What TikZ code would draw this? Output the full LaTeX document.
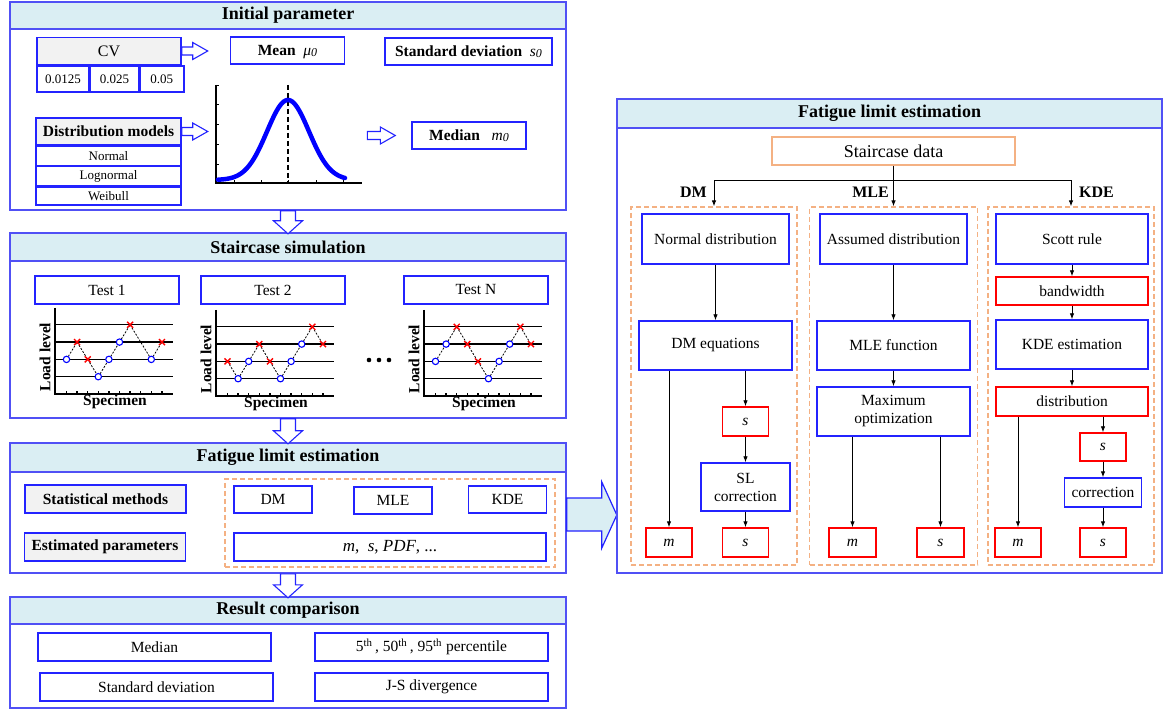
\documentclass[tikz,border=0pt]{standalone}
\usepackage{fontspec}
\setmainfont{Liberation Serif}
\usepackage{tikz}
\usetikzlibrary{arrows.meta, positioning, calc}

\definecolor{panelblue}{RGB}{80,80,245}
\definecolor{boxblue}{RGB}{35,35,255}
\definecolor{headblue}{RGB}{218,238,243}
\definecolor{boxgray}{RGB}{242,242,242}
\definecolor{dashorange}{RGB}{244,177,131}

% one staircase test: name, origin, trail, survived, failed
\newcommand{\stairplot}[5]{%
  \begin{scope}[shift={#2}]
    \draw[axisline] (0,-86) -- (0,0) -- (118,0);
    \foreach \lv in {1,...,4} \draw[gridline] (0,-17.3*\lv) -- (118,-17.3*\lv);
    \foreach \n in {0,...,9} \draw[axisline] (11.5+10.6*\n,0) -- ++(0,-3);
    \foreach \n/\lv [remember=\n as \lastn (initially 0), remember=\lv as \lastlv (initially 2)] in {#3}
      \draw[trail] (11.5+10.6*\lastn,-17.3*\lastlv) -- (11.5+10.6*\n,-17.3*\lv);
    \foreach \n/\lv in {#4} \draw[opt] (11.5+10.6*\n,-17.3*\lv) circle (3.2);
    \foreach \n/\lv in {#5} \draw[fail] (11.5+10.6*\n,-17.3*\lv) +(-3,-3) -- +(3,3) +(-3,3) -- +(3,-3);
    \node (#1y) [axlabel, rotate=90] at (-10,-37) {Load level};
    \node (#1x) [axlabel, anchor=north, inner sep=0pt] at (60,1) {Specimen};
  \end{scope}}

\begin{document}
\begin{tikzpicture}[x=1pt, y=-1pt,
  every node/.style={font=\fontsize{15.5}{18}\selectfont, inner sep=1pt},
  wh/.style 2 args={minimum width=#1pt, minimum height=#2pt},
  panel/.style={draw=panelblue, line width=1.6pt, inner sep=0pt},
  header/.style={draw=panelblue, line width=1.6pt, fill=headblue, inner sep=0pt,
    font=\fontsize{18}{20}\selectfont\bfseries},
  box/.style={draw=boxblue, line width=1.4pt, fill=white, align=center},
  redbox/.style={box, draw=red},
  graybox/.style={box, fill=boxgray, font=\fontsize{15.5}{18}\selectfont\bfseries},
  cell/.style={box, font=\fontsize{13}{15}\selectfont},
  dashbox/.style={draw=dashorange, dash pattern=on 5pt off 3pt, line width=1.2pt, inner sep=0pt},
  lab/.style={font=\fontsize{16}{18}\selectfont\bfseries},
  axlabel/.style={font=\fontsize{15.5}{17}\selectfont\bfseries},
  axisline/.style={line width=1.4pt},
  gridline/.style={line width=1.3pt},
  trail/.style={dash pattern=on 2pt off 1.5pt, line width=0.8pt},
  opt/.style={draw=blue, fill=white, line width=1.1pt},
  fail/.style={draw=red, line width=1.4pt},
  flow/.style={-{Latex[length=6pt,width=4.5pt]}, line width=0.9pt},
  harrow/.style={draw=boxblue, line width=1.1pt, fill=white},
  bigarrow/.style={draw=boxblue, line width=1.2pt, fill=headblue},
  pics/hollow/.style n args={4}{code={
    \draw[harrow] (0,-#2) -- ({#1-#4},-#2) -- ({#1-#4},-#3) -- (#1,0)
      -- ({#1-#4},#3) -- ({#1-#4},#2) -- (0,#2) -- cycle;}}
]
\fill[white] (0,0) rectangle (1163,711);
\useasboundingbox (0,0) rectangle (1163,711);

% ---- initial parameter
\node (p1) [panel, wh={556}{208}] at (288,106) {};
\node (p1h) [header, wh={556}{27}, anchor=north] at (p1.north) {Initial parameter};
\node (cv) [box, fill=boxgray, wh={144}{27}, font=\fontsize{16}{18}\selectfont] at (109,51) {CV};
\node (cv1) [cell, wh={52}{26}, anchor=north west] at (cv.south west) {0.0125};
\node (cv2) [cell, wh={48}{26}, right=0pt of cv1] {0.025};
\node (cv3) [cell, wh={44}{26}, right=0pt of cv2] {0.05};
\node (mean) [box, wh={114}{27}] at (287.5,50.5)
  {\textbf{Mean}\ \ \smash{\textit{μ}}\smash{\raisebox{-1pt}{\fontsize{12}{12}\selectfont\textit{0}}}};
\node (sdev0) [box, wh={167}{27}] at (468.5,51.5)
  {\textbf{Standard deviation}\ \ \textit{s}\smash{\raisebox{-1pt}{\fontsize{12}{12}\selectfont\textit{0}}}};
\node (dmh) [graybox, wh={145}{27}] at (108.5,131.5) {Distribution models};
\node (normal) [cell, wh={145}{19}, below=0pt of dmh] {Normal};
\node (lognormal) [cell, wh={145}{19}, below=0pt of normal] {Lognormal};
\node (weibull) [cell, wh={145}{18}, below=0pt of lognormal] {Weibull};
\node (median0) [box, wh={114}{27}] at (469,135.5)
  {\textbf{Median}\ \ \ \textit{m}\smash{\raisebox{-1pt}{\fontsize{12}{12}\selectfont\textit{0}}}};
\pic at (cv.east) {hollow={26}{4}{8.5}{15}};
\pic at (dmh.east) {hollow={26}{4}{8.5}{15}};
\pic at ($(median0.west)+(-44,0)$) {hollow={28}{4}{8.5}{15}};

% pdf sketch
\begin{scope}[shift={(216,183)}]
  \draw[axisline] (0,-98) -- (0,0) -- (146,0);
  \foreach \t in {19,39,59,79,98} \draw (0,-\t) -- ++(3,0);
  \foreach \t in {18,45,72,100,127} \draw (\t,0) -- ++(0,-3);
  \draw[dash pattern=on 5pt off 3pt, line width=1.2pt] (72,-98) -- (72,0);
  \draw[blue, line width=4.5pt, line cap=round] plot[domain=2:129, samples=90]
    (\x, {-3-80*exp(-((\x-72)/21)^2/2)});
\end{scope}

% ---- staircase simulation
\node (p2) [panel, wh={556}{185}] at (288,325.5) {};
\node (p2h) [header, wh={556}{28}, anchor=north] at (p2.north) {Staircase simulation};
\node (test1) [box, wh={144}{28}] at (107,290) {Test 1};
\node (test2) [box, wh={144}{28}] at (273,290) {Test 2};
\node (testn) [box, wh={144}{28}] at (476,290) {Test N};
\stairplot{sa}{(55,394)}{0/2,1/3,2/2,3/1,4/2,5/3,6/4,8/2,9/3}{0/2,3/1,4/2,5/3,8/2}{1/3,2/2,6/4,9/3}
\stairplot{sb}{(216,396)}{0/2,1/1,2/2,3/3,4/2,5/1,6/2,7/3,8/4,9/3}{1/1,2/2,5/1,6/2,7/3}{0/2,3/3,4/2,8/4,9/3}
\stairplot{sc}{(424,396)}{0/2,1/3,2/4,3/3,4/2,5/1,6/2,7/3,8/4,9/3}{0/2,1/3,5/1,6/2,7/3}{2/4,3/3,4/2,8/4,9/3}
\foreach \d in {369,379,389} \fill (\d,360) circle (2.3);

% ---- fatigue limit estimation (left)
\node (p3) [panel, wh={556}{130}] at (288,508) {};
\node (p3h) [header, wh={556}{29}, anchor=north] at (p3.north) {Fatigue limit estimation};
\node (stat) [graybox, wh={161}{28}] at (105.5,499) {Statistical methods};
\node (estp) [graybox, wh={161}{28}] at (105,547) {Estimated parameters};
\node (methods) [dashbox, wh={330}{88}] at (390,523) {};
\node (dm) [box, wh={78}{27}] at (273,499.5) {DM};
\node (mle) [box, wh={78}{27}] at (393,500.5) {MLE};
\node (kde) [box, wh={78}{27}] at (507.5,499.5) {KDE};
\node (params) [box, wh={312}{28}, font=\fontsize{17}{19}\selectfont] at (390,547)
  {\textit{m},\ \ \textit{s},\ \textit{PDF}, ...};
\draw[bigarrow] (p3.east) ++(0,-10) -- ++(35,0) -- ++(0,-16) -- ++(15,33)
  -- ++(-15,33) -- ++(0,-17) -- ++(-35,0) -- cycle;

% ---- result comparison
\node (p4) [panel, wh={556}{111}] at (288,652.5) {};
\node (p4h) [header, wh={556}{27}, anchor=north] at (p4.north) {Result comparison};
\node (med) [box, wh={233}{28}] at (154.5,647) {Median};
\node (pct) [box, wh={233}{28}] at (431.5,647)
  {5\textsuperscript{th}\,,\ 50\textsuperscript{th}\,,\ 95\textsuperscript{th} percentile};
\node (stdv) [box, wh={233}{28}] at (156.5,687) {Standard deviation};
\node (js) [box, wh={233}{28}] at (431.5,687) {J-S divergence};

\pic[rotate=-90] at (p1.south) {hollow={23}{7.5}{14.5}{13}};
\pic[rotate=-90] at (p2.south) {hollow={25}{7.5}{14.5}{13}};
\pic[rotate=-90] at (p3.south) {hollow={24}{7.5}{14.5}{13}};

% ---- fatigue limit estimation (right)
\node (rp) [panel, wh={545}{474}] at (889.5,336) {};
\node (rph) [header, wh={545}{29}, anchor=north] at (rp.north) {Fatigue limit estimation};
\node (sdata) [box, draw=dashorange, wh={243}{28}, font=\fontsize{18}{20}\selectfont] at (893.5,151) {Staircase data};
\node (dmcol) [dashbox, wh={166}{358}] at (714,386) {};
\node (mlecol) [dashbox, wh={168}{358}] at (893.5,386) {};
\node (kdecol) [dashbox, wh={166}{358}] at (1071,386) {};
\coordinate (fork) at ($(sdata.south)+(0,15)$);
\draw[line width=0.9pt] (sdata.south) -- (fork);
\draw[flow] (fork) -| (dmcol.north);
\draw[flow] (fork) -- (mlecol.north);
\draw[flow] (fork) -| (kdecol.north);
\node (dmlab) [lab, anchor=east] at (708,192) {DM};
\node (mlelab) [lab, anchor=east] at (890,192) {MLE};
\node (kdelab) [lab, anchor=west] at (1078,192) {KDE};

% DM
\node (normd) [box, wh={147}{50}] at (715.5,239) {Normal distribution};
\node (dmeq) [box, wh={153}{49}] at (715.5,345.5) {DM equations};
\node (dms1) [redbox, wh={46}{29}] at (745.5,421.5) {\textit{s}};
\node (slc) [box, wh={89}{48}] at (745.5,487) {SL\\correction};
\node (dmm) [redbox, wh={46}{29}] at (669,542.5) {\textit{m}};
\node (dms2) [redbox, wh={46}{29}] at (745.5,542.5) {\textit{s}};
\draw[flow] (normd) -- (dmeq);
\draw[flow] (dmeq.south -| dmm) -- (dmm);
\draw[flow] (dmeq.south -| dms1) -- (dms1);
\draw[flow] (dms1) -- (slc);
\draw[flow] (slc) -- (dms2);

% MLE
\node (assd) [box, wh={147}{50}] at (893.5,239) {Assumed distribution};
\node (mlef) [box, wh={153}{49}] at (893.5,345.5) {MLE function};
\node (maxo) [box, wh={153}{49}] at (893.5,411.5) {Maximum\\optimization};
\node (mlem) [redbox, wh={47}{29}] at (852.5,542.5) {\textit{m}};
\node (mles) [redbox, wh={47}{29}] at (940.5,542.5) {\textit{s}};
\draw[flow] (assd) -- (mlef);
\draw[flow] (mlef) -- (maxo);
\draw[flow] (maxo.south -| mlem) -- (mlem);
\draw[flow] (maxo.south -| mles) -- (mles);

% KDE
\node (scott) [box, wh={152}{50}] at (1072,239) {Scott rule};
\node (bw) [redbox, wh={152}{28}] at (1072,291) {bandwidth};
\node (kdee) [box, wh={152}{49}] at (1072,344.5) {KDE estimation};
\node (distr) [redbox, wh={152}{29}] at (1072,401.5) {distribution};
\node (kdes1) [redbox, wh={46}{28}] at (1103,447) {\textit{s}};
\node (corr) [box, wh={77}{29}] at (1103,492.5) {correction};
\node (kdem) [redbox, wh={46}{29}] at (1018,542.5) {\textit{m}};
\node (kdes2) [redbox, wh={46}{29}] at (1103,542.5) {\textit{s}};
\draw[flow] (scott) -- (bw);
\draw[flow] (bw) -- (kdee);
\draw[flow] (kdee) -- (distr);
\draw[flow] (distr.south -| kdem) -- (kdem);
\draw[flow] (distr.south -| kdes1) -- (kdes1);
\draw[flow] (kdes1) -- (corr);
\draw[flow] (corr) -- (kdes2);
\end{tikzpicture}
\end{document}
